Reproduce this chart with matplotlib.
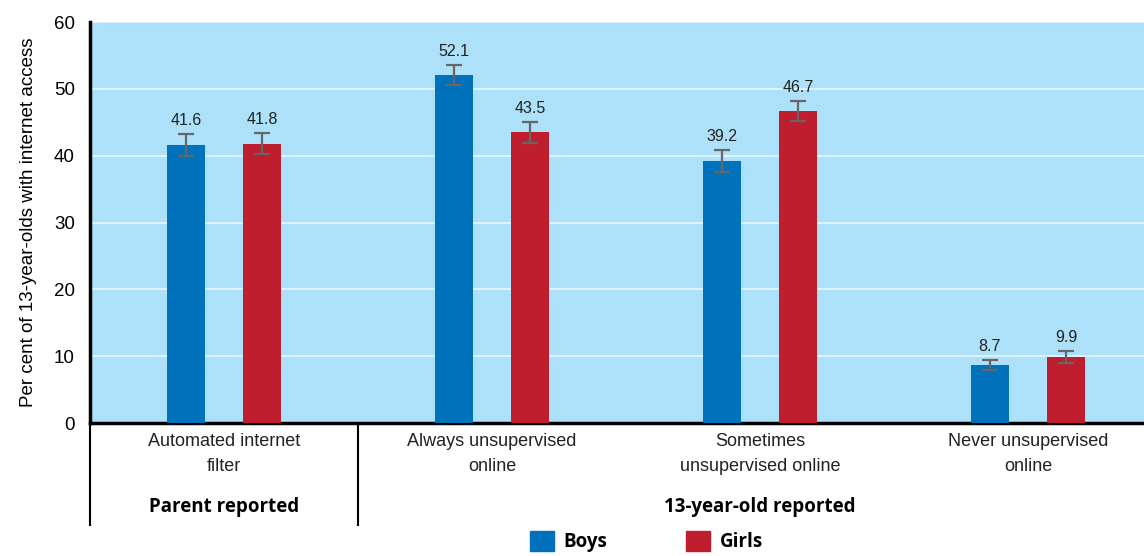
import numpy as np
import matplotlib.pyplot as plt
from matplotlib.patches import Patch
from matplotlib.lines import Line2D

# --- data ---
categories = ["Automated internet\nfilter", "Always unsupervised\nonline",
              "Sometimes\nunsupervised online", "Never unsupervised\nonline"]
boys = [41.6, 52.1, 39.2, 8.7]
girls = [41.8, 43.5, 46.7, 9.9]
boys_err = [1.7, 1.5, 1.65, 0.8]
girls_err = [1.6, 1.6, 1.55, 0.9]
groups = ["Parent reported", "13-year-old reported"]
group_span = [(0, 0), (1, 3)]

blue = "#0071BB"
red = "#BE1E2D"
bg = "#ADE1FA"

plt.rcParams['font.family'] = ['Liberation Sans', 'DejaVu Sans']

fig = plt.figure(figsize=(11.44, 5.56), dpi=100)
ax = fig.add_axes([0.0787, 0.2392, 0.9213, 0.7212])
ax.set_facecolor(bg)

x = np.arange(len(categories))
w = 0.14
off = 0.142
ekw = dict(ecolor="#666666", elinewidth=1.6, capsize=6, capthick=1.6)
ax.bar(x - off, boys, w, color=blue, yerr=boys_err, error_kw=ekw, zorder=3)
ax.bar(x + off, girls, w, color=red, yerr=girls_err, error_kw=ekw, zorder=3)

for xi, v, e in zip(x - off, boys, boys_err):
    ax.annotate(f"{v:.1f}", (xi, v + e), xytext=(0, 4), textcoords="offset points",
                ha="center", va="bottom", fontsize=11.5, color="#222222")
for xi, v, e in zip(x + off, girls, girls_err):
    ax.annotate(f"{v:.1f}", (xi, v + e), xytext=(0, 4), textcoords="offset points",
                ha="center", va="bottom", fontsize=11.5, color="#222222")

ax.set_xlim(-0.5, 3.433)
ax.set_ylim(0, 60)
ax.set_yticks(range(0, 61, 10))
ax.tick_params(axis='y', length=0, labelsize=13.5, pad=11)
ax.set_xticks([])
ax.yaxis.grid(True, color="white", lw=1.2, alpha=0.7, zorder=0)
ax.set_axisbelow(True)
for s in ["top", "right"]:
    ax.spines[s].set_visible(False)
ax.spines["left"].set_linewidth(2.5)
ax.spines["bottom"].set_linewidth(2.5)
ax.set_ylabel("Per cent of 13-year-olds with internet access", fontsize=13.5, labelpad=12)

trans = ax.get_xaxis_transform()
for xi, lab in zip(x, categories):
    ax.text(xi, -0.025, lab, transform=trans, ha="center", va="top",
            fontsize=13, linespacing=1.6, color="#222222")

for (a, b), g in zip(group_span, groups):
    ax.text((a + b) / 2, -0.21, g, transform=trans, ha="center", va="center",
            fontsize=13.5, fontweight="bold", family=["Open Sans", "DejaVu Sans"])

for xv in [-0.5, 0.5]:
    ax.add_line(Line2D([xv, xv], [0, -0.255], transform=trans, color="black",
                       lw=1.5, clip_on=False))

handles = [Patch(color=blue, label="Boys"), Patch(color=red, label="Girls")]
fig.legend(handles=handles, loc="lower center", bbox_to_anchor=(0.565, -0.024), ncol=2,
           frameon=False, handlelength=1.3, handleheight=1.3, handletextpad=0.5,
           columnspacing=4.2, prop={"family": "Open Sans", "weight": "bold", "size": 13.5})

fig.savefig("out.png", dpi=100)
